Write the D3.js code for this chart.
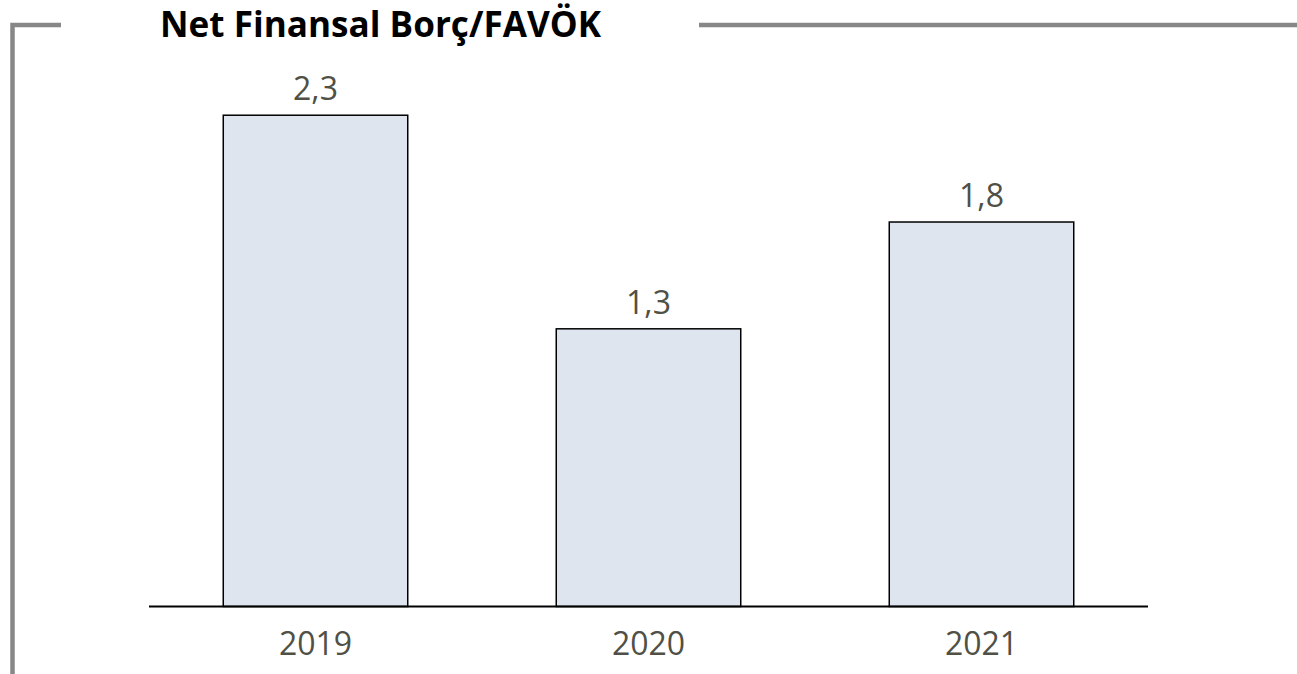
<!DOCTYPE html>
<html>
<head>
<meta charset="utf-8">
<script src="https://cdn.jsdelivr.net/npm/d3@7"></script>
<style>
  html, body { margin: 0; padding: 0; background: #fff; }
  svg { display: block; }
</style>
</head>
<body>
<svg id="chart" width="1297" height="674"></svg>
<script>
const title = "Net Finansal Borç/FAVÖK";
const categories = ["2019", "2020", "2021"];
const values = [2.3, 1.3, 1.8];
const valueLabels = ["2,3", "1,3", "1,8"];

const W = 1297, H = 674;
const svg = d3.select("#chart");

// frame lines
const frame = svg.append("g").attr("stroke", "#878787").attr("stroke-width", 4.5).attr("fill", "none");
frame.append("path").attr("d", "M12.5,674 L12.5,25 L61,25");
frame.append("line").attr("x1", 699).attr("x2", W).attr("y1", 25).attr("y2", 25);

// title
svg.append("text")
  .attr("x", 160).attr("y", 37)
  .attr("font-family", "'Open Sans', sans-serif")
  .attr("font-weight", "bold")
  .attr("font-size", 35)
  .attr("fill", "#000")
  .attr("textLength", 441)
  .attr("lengthAdjust", "spacingAndGlyphs")
  .text(title);

const x = d3.scaleBand().domain(categories).range([149, 1148]).paddingInner(0.446).paddingOuter(0.223);
const y = d3.scaleLinear().domain([0, 2.5]).range([606.5, 606.5 - 213.6 * 2.5]);

// bars
svg.append("g").selectAll("rect").data(categories).join("rect")
  .attr("x", d => x(d))
  .attr("y", (d, i) => y(values[i]))
  .attr("width", x.bandwidth())
  .attr("height", (d, i) => y(0) - y(values[i]))
  .attr("fill", "#dee5ef")
  .attr("stroke", "#000")
  .attr("stroke-width", 1.5);

// value labels
svg.append("g").selectAll("text").data(categories).join("text")
  .attr("x", d => x(d) + x.bandwidth() / 2)
  .attr("y", (d, i) => y(values[i]) - 15)
  .attr("text-anchor", "middle")
  .attr("font-family", "'Open Sans', sans-serif")
  .attr("font-size", 32)
  .attr("fill", "#505046")
  .text((d, i) => valueLabels[i]);

// x axis
const axis = svg.append("g").attr("transform", `translate(0,${y(0)})`)
  .call(d3.axisBottom(x).tickSize(0).tickPadding(0));
axis.select(".domain").attr("d", `M149,0H1148`).attr("stroke", "#000").attr("stroke-width", 2);
axis.selectAll(".tick text")
  .attr("dy", 0)
  .attr("y", 48.5)
  .attr("font-family", "'Open Sans', sans-serif")
  .attr("font-size", 32)
  .attr("fill", "#505046");
</script>
</body>
</html>
